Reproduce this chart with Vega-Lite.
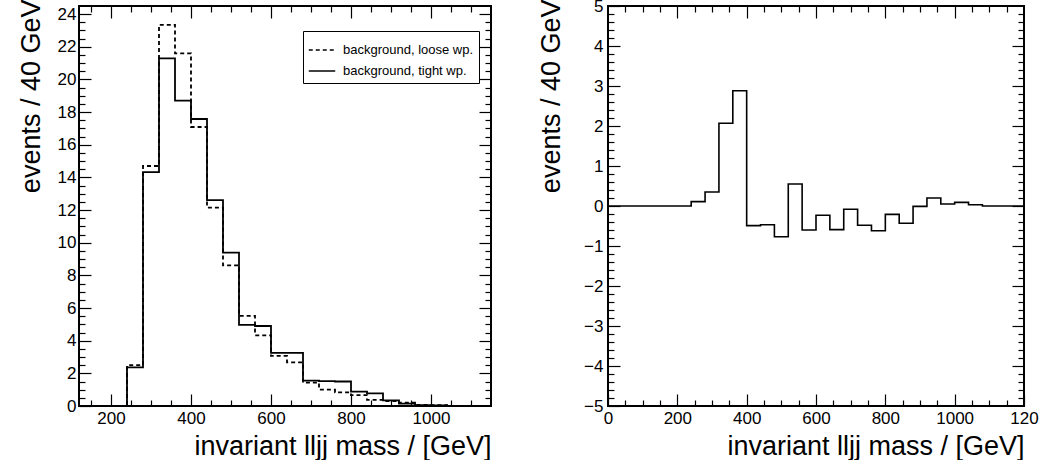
{
  "$schema": "https://vega.github.io/schema/vega-lite/v6.json",
  "background": "white",
  "padding": {"left": 16, "top": -4, "right": 0, "bottom": 0},
  "spacing": 117,
  "bounds": "flush",
  "datasets": {
    "left": [
      {"x": 120, "series": "background, loose wp.", "y": 0},
      {"x": 160, "series": "background, loose wp.", "y": 0},
      {"x": 200, "series": "background, loose wp.", "y": 0},
      {"x": 240, "series": "background, loose wp.", "y": 2.5},
      {"x": 280, "series": "background, loose wp.", "y": 14.7},
      {"x": 320, "series": "background, loose wp.", "y": 23.35},
      {"x": 360, "series": "background, loose wp.", "y": 21.6},
      {"x": 400, "series": "background, loose wp.", "y": 17.09},
      {"x": 440, "series": "background, loose wp.", "y": 12.15},
      {"x": 480, "series": "background, loose wp.", "y": 8.61},
      {"x": 520, "series": "background, loose wp.", "y": 5.52},
      {"x": 560, "series": "background, loose wp.", "y": 4.33},
      {"x": 600, "series": "background, loose wp.", "y": 3.07},
      {"x": 640, "series": "background, loose wp.", "y": 2.67},
      {"x": 680, "series": "background, loose wp.", "y": 1.43},
      {"x": 720, "series": "background, loose wp.", "y": 1.0},
      {"x": 760, "series": "background, loose wp.", "y": 0.83},
      {"x": 800, "series": "background, loose wp.", "y": 0.67},
      {"x": 840, "series": "background, loose wp.", "y": 0.37},
      {"x": 880, "series": "background, loose wp.", "y": 0.3},
      {"x": 920, "series": "background, loose wp.", "y": 0.2},
      {"x": 960, "series": "background, loose wp.", "y": 0.06},
      {"x": 1000, "series": "background, loose wp.", "y": 0.05},
      {"x": 1040, "series": "background, loose wp.", "y": 0},
      {"x": 1080, "series": "background, loose wp.", "y": 0},
      {"x": 1120, "series": "background, loose wp.", "y": 0},
      {"x": 1160, "series": "background, loose wp.", "y": 0},
      {"x": 120, "series": "background, tight wp.", "y": 0},
      {"x": 160, "series": "background, tight wp.", "y": 0},
      {"x": 200, "series": "background, tight wp.", "y": 0},
      {"x": 240, "series": "background, tight wp.", "y": 2.37},
      {"x": 280, "series": "background, tight wp.", "y": 14.33},
      {"x": 320, "series": "background, tight wp.", "y": 21.29},
      {"x": 360, "series": "background, tight wp.", "y": 18.71},
      {"x": 400, "series": "background, tight wp.", "y": 17.58},
      {"x": 440, "series": "background, tight wp.", "y": 12.61},
      {"x": 480, "series": "background, tight wp.", "y": 9.39},
      {"x": 520, "series": "background, tight wp.", "y": 4.97},
      {"x": 560, "series": "background, tight wp.", "y": 4.9},
      {"x": 600, "series": "background, tight wp.", "y": 3.25},
      {"x": 640, "series": "background, tight wp.", "y": 3.25},
      {"x": 680, "series": "background, tight wp.", "y": 1.55},
      {"x": 720, "series": "background, tight wp.", "y": 1.52},
      {"x": 760, "series": "background, tight wp.", "y": 1.5},
      {"x": 800, "series": "background, tight wp.", "y": 0.88},
      {"x": 840, "series": "background, tight wp.", "y": 0.77},
      {"x": 880, "series": "background, tight wp.", "y": 0.35},
      {"x": 920, "series": "background, tight wp.", "y": 0.15},
      {"x": 960, "series": "background, tight wp.", "y": 0.05},
      {"x": 1000, "series": "background, tight wp.", "y": 0.04},
      {"x": 1040, "series": "background, tight wp.", "y": 0},
      {"x": 1080, "series": "background, tight wp.", "y": 0},
      {"x": 1120, "series": "background, tight wp.", "y": 0},
      {"x": 1160, "series": "background, tight wp.", "y": 0}
    ],
    "right": [
      {"x": 0, "y": 0}, {"x": 40, "y": 0}, {"x": 80, "y": 0}, {"x": 120, "y": 0},
      {"x": 160, "y": 0}, {"x": 200, "y": 0}, {"x": 240, "y": 0.11}, {"x": 280, "y": 0.35},
      {"x": 320, "y": 2.07}, {"x": 360, "y": 2.88}, {"x": 400, "y": -0.49}, {"x": 440, "y": -0.47},
      {"x": 480, "y": -0.77}, {"x": 520, "y": 0.55}, {"x": 560, "y": -0.6}, {"x": 600, "y": -0.23},
      {"x": 640, "y": -0.59}, {"x": 680, "y": -0.08}, {"x": 720, "y": -0.48}, {"x": 760, "y": -0.62},
      {"x": 800, "y": -0.21}, {"x": 840, "y": -0.43}, {"x": 880, "y": -0.01}, {"x": 920, "y": 0.2},
      {"x": 960, "y": 0.05}, {"x": 1000, "y": 0.09}, {"x": 1040, "y": 0.03}, {"x": 1080, "y": 0},
      {"x": 1120, "y": 0}, {"x": 1160, "y": 0}, {"x": 1200, "y": 0}
    ]
  },
  "hconcat": [
    {
      "width": 412,
      "height": 400,
      "data": {"name": "left"},
      "resolve": {"axis": {"x": "independent", "y": "independent"}},
      "layer": [
        {
          "mark": {"type": "line", "interpolate": "step-after", "clip": true, "strokeWidth": 1.8, "color": "black"},
          "encoding": {
            "x": {"field": "x", "type": "quantitative",
              "scale": {"domain": [120, 1150], "nice": false, "zero": false},
              "axis": {"orient": "bottom", "values": [200, 400, 600, 800, 1000], "format": "d", "tickSize": -12, "labelPadding": 16, "labelFlush": false,
                "title": "invariant lljj mass / [GeV]", "titleX": 412, "titleY": 48, "titleAlign": "right", "titleBaseline": "alphabetic"}},
            "y": {"field": "y", "type": "quantitative",
              "scale": {"domain": [0, 24.5], "nice": false, "zero": false},
              "axis": {"orient": "left", "values": [0, 2, 4, 6, 8, 10, 12, 14, 16, 18, 20, 22, 24], "tickSize": -12, "labelPadding": 15,
                "title": "events / 40 GeV", "titleX": -40, "titleY": -7, "titleAlign": "right", "titleAngle": 270, "titleBaseline": "alphabetic"}},
            "strokeDash": {"field": "series", "type": "nominal",
              "scale": {"domain": ["background, loose wp.", "background, tight wp."], "range": [[4, 3], [1, 0]]},
              "legend": {"title": null, "orient": "none", "legendX": 224, "legendY": 25, "fillColor": "white", "strokeColor": "black",
                "padding": 5, "labelFontSize": 13, "labelFont": "Liberation Sans", "labelColor": "black", "symbolType": "stroke", "symbolSize": 700,
                "symbolStrokeWidth": 1.5, "symbolStrokeColor": "black", "rowPadding": -3, "labelOffset": 7}}
          }
        },
        {
          "mark": {"type": "point", "opacity": 0},
          "encoding": {
            "x": {"field": "x", "type": "quantitative",
              "axis": {"orient": "bottom", "values": [150, 250, 300, 350, 450, 500, 550, 650, 700, 750, 850, 900, 950, 1050, 1100], "tickSize": -6, "labels": false, "title": null}},
            "y": {"field": "y", "type": "quantitative",
              "axis": {"orient": "left", "values": [0.5,1,1.5,2.5,3,3.5,4.5,5,5.5,6.5,7,7.5,8.5,9,9.5,10.5,11,11.5,12.5,13,13.5,14.5,15,15.5,16.5,17,17.5,18.5,19,19.5,20.5,21,21.5,22.5,23,23.5], "tickSize": -6, "labels": false, "title": null}}
          }
        },
        {
          "mark": {"type": "point", "opacity": 0},
          "encoding": {
            "x": {"field": "x", "type": "quantitative",
              "axis": {"orient": "top", "values": [200, 400, 600, 800, 1000], "tickSize": -12, "labels": false, "title": null}},
            "y": {"field": "y", "type": "quantitative",
              "axis": {"orient": "right", "values": [2, 4, 6, 8, 10, 12, 14, 16, 18, 20, 22, 24], "tickSize": -12, "labels": false, "title": null}}
          }
        },
        {
          "mark": {"type": "point", "opacity": 0},
          "encoding": {
            "x": {"field": "x", "type": "quantitative",
              "axis": {"orient": "top", "values": [150, 250, 300, 350, 450, 500, 550, 650, 700, 750, 850, 900, 950, 1050, 1100], "tickSize": -6, "labels": false, "title": null}},
            "y": {"field": "y", "type": "quantitative",
              "axis": {"orient": "right", "values": [0.5,1,1.5,2.5,3,3.5,4.5,5,5.5,6.5,7,7.5,8.5,9,9.5,10.5,11,11.5,12.5,13,13.5,14.5,15,15.5,16.5,17,17.5,18.5,19,19.5,20.5,21,21.5,22.5,23,23.5], "tickSize": -6, "labels": false, "title": null}}
          }
        }
      ]
    },
    {
      "width": 416,
      "height": 400,
      "data": {"name": "right"},
      "resolve": {"axis": {"x": "independent", "y": "independent"}},
      "layer": [
        {
          "mark": {"type": "line", "interpolate": "step-after", "clip": true, "strokeWidth": 1.6, "color": "black"},
          "encoding": {
            "x": {"field": "x", "type": "quantitative",
              "scale": {"domain": [0, 1200], "nice": false, "zero": false},
              "axis": {"orient": "bottom", "values": [0, 200, 400, 600, 800, 1000, 1200], "format": "d", "tickSize": -12, "labelPadding": 16, "labelFlush": false,
                "labelExpr": "datum.value == 1200 ? '120' : datum.label",
                "title": "invariant lljj mass / [GeV]", "titleX": 416, "titleY": 48, "titleAlign": "right", "titleBaseline": "alphabetic"}},
            "y": {"field": "y", "type": "quantitative",
              "scale": {"domain": [-5, 5], "nice": false, "zero": false},
              "axis": {"orient": "left", "values": [-5, -4, -3, -2, -1, 0, 1, 2, 3, 4, 5], "tickSize": -12, "labelPadding": 17,
                "title": "events / 40 GeV", "titleX": -49, "titleY": -7, "titleAlign": "right", "titleAngle": 270, "titleBaseline": "alphabetic"}}
          }
        },
        {
          "mark": {"type": "point", "opacity": 0},
          "encoding": {
            "x": {"field": "x", "type": "quantitative",
              "axis": {"orient": "bottom", "values": [50, 100, 150, 250, 300, 350, 450, 500, 550, 650, 700, 750, 850, 900, 950, 1050, 1100, 1150], "tickSize": -6, "labels": false, "title": null}},
            "y": {"field": "y", "type": "quantitative",
              "axis": {"orient": "left", "values": [-4.8,-4.6,-4.4,-4.2,-3.8,-3.6,-3.4,-3.2,-2.8,-2.6,-2.4,-2.2,-1.8,-1.6,-1.4,-1.2,-0.8,-0.6,-0.4,-0.2,0.2,0.4,0.6,0.8,1.2,1.4,1.6,1.8,2.2,2.4,2.6,2.8,3.2,3.4,3.6,3.8,4.2,4.4,4.6,4.8], "tickSize": -6, "labels": false, "title": null}}
          }
        },
        {
          "mark": {"type": "point", "opacity": 0},
          "encoding": {
            "x": {"field": "x", "type": "quantitative",
              "axis": {"orient": "top", "values": [200, 400, 600, 800, 1000], "tickSize": -12, "labels": false, "title": null}},
            "y": {"field": "y", "type": "quantitative",
              "axis": {"orient": "right", "values": [-4, -3, -2, -1, 0, 1, 2, 3, 4], "tickSize": -12, "labels": false, "title": null}}
          }
        },
        {
          "mark": {"type": "point", "opacity": 0},
          "encoding": {
            "x": {"field": "x", "type": "quantitative",
              "axis": {"orient": "top", "values": [50, 100, 150, 250, 300, 350, 450, 500, 550, 650, 700, 750, 850, 900, 950, 1050, 1100, 1150], "tickSize": -6, "labels": false, "title": null}},
            "y": {"field": "y", "type": "quantitative",
              "axis": {"orient": "right", "values": [-4.8,-4.6,-4.4,-4.2,-3.8,-3.6,-3.4,-3.2,-2.8,-2.6,-2.4,-2.2,-1.8,-1.6,-1.4,-1.2,-0.8,-0.6,-0.4,-0.2,0.2,0.4,0.6,0.8,1.2,1.4,1.6,1.8,2.2,2.4,2.6,2.8,3.2,3.4,3.6,3.8,4.2,4.4,4.6,4.8], "tickSize": -6, "labels": false, "title": null}}
          }
        }
      ]
    }
  ],
  "config": {
    "font": "Liberation Sans",
    "view": {"stroke": "black", "strokeWidth": 2},
    "axis": {
      "domain": false, "grid": false, "tickColor": "black", "tickWidth": 1.2,
      "labelColor": "black", "titleColor": "black", "labelFont": "Liberation Sans", "titleFont": "Liberation Sans",
      "labelFontSize": 17, "titleFontSize": 27, "titleFontWeight": "normal", "minExtent": 0, "maxExtent": 500
    }
  }
}
